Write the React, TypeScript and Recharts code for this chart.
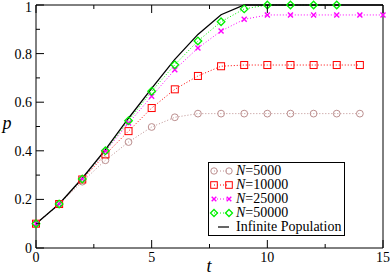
import React from 'react';
import { LineChart, Line, XAxis, YAxis, Legend } from 'recharts';

const tValues = [0, 1, 2, 3, 4, 5, 6, 7, 8, 9, 10, 11, 12, 13, 14, 15];
const n5000 = [0.1, 0.181, 0.273, 0.361, 0.436, 0.498, 0.538, 0.553, 0.553, 0.553, 0.553, 0.553, 0.553, 0.553, 0.553, null];
const n10000 = [0.1, 0.181, 0.282, 0.385, 0.481, 0.576, 0.653, 0.708, 0.748, 0.753, 0.753, 0.753, 0.753, 0.753, 0.753, null];
const n25000 = [0.1, 0.181, 0.284, 0.398, 0.514, 0.624, 0.734, 0.823, 0.893, 0.941, 0.959, 0.959, 0.959, 0.959, 0.959, 0.959];
const n50000 = [0.1, 0.181, 0.284, 0.4, 0.524, 0.645, 0.754, 0.852, 0.931, 0.984, 1.0, 1.0, 1.0, 1.0, null, null];
const infinite = [0.1, 0.181, 0.287, 0.405, 0.534, 0.657, 0.776, 0.879, 0.96, 1.0, 1.0, 1.0, 1.0, 1.0, 1.0, 1.0];

const xTicks = [0, 2.5, 5, 7.5, 10, 12.5, 15];
const yTicks = [0, 0.1, 0.2, 0.3, 0.4, 0.5, 0.6, 0.7, 0.8, 0.9, 1.0];

const data = tValues.map((t, i) => ({
  t,
  n5000: n5000[i],
  n10000: n10000[i],
  n25000: n25000[i],
  n50000: n50000[i],
  inf: infinite[i],
}));

const FONT = '"Liberation Serif", "DejaVu Serif", serif';
const C5000 = '#bc8f8f';
const C10000 = '#ff0000';
const C25000 = '#ff00ff';
const C50000 = '#00f000';

const isMajorX = (v: number) => Math.abs(v % 5) < 1e-9;
const isMajorY = (v: number) => Math.round(v * 10) % 2 === 0;

const BottomTick = (props: any) => {
  const { x, y, payload } = props;
  const v = payload.value;
  const major = isMajorX(v);
  return (
    <g>
      <line x1={x} y1={y} x2={x} y2={y - (major ? 8 : 4)} stroke="#000" strokeWidth={1} />
      {major && (
        <text x={x} y={y + 14} textAnchor="middle" fontFamily={FONT} fontSize={14} fill="#000">
          {String(v)}
        </text>
      )}
    </g>
  );
};

const TopTick = (props: any) => {
  const { x, y, payload } = props;
  const major = isMajorX(payload.value);
  return <line x1={x} y1={y} x2={x} y2={y + (major ? 8 : 4)} stroke="#000" strokeWidth={1} />;
};

const LeftTick = (props: any) => {
  const { x, y, payload } = props;
  const v = payload.value;
  const major = isMajorY(v);
  const shift = v >= 0.999 ? 1.5 : 0;
  return (
    <g>
      <line x1={x} y1={y} x2={x + (major ? 8 : 4)} y2={y} stroke="#000" strokeWidth={1} />
      {major && (
        <text x={x - 4} y={y + 5 + shift} textAnchor="end" fontFamily={FONT} fontSize={14} fill="#000">
          {String(Math.round(v * 10) / 10)}
        </text>
      )}
    </g>
  );
};

const RightTick = (props: any) => {
  const { x, y, payload } = props;
  const major = isMajorY(payload.value);
  return <line x1={x} y1={y} x2={x - (major ? 8 : 4)} y2={y} stroke="#000" strokeWidth={1} />;
};

const ok = (p: any) => p && p.cx != null && p.cy != null && p.value != null && !Number.isNaN(p.cy);

const CircleDot = (p: any) =>
  ok(p) ? <circle key={p.key} cx={p.cx} cy={p.cy} r={3.4} fill="none" stroke={C5000} strokeWidth={1} /> : <g key={p.key} />;
const SquareDot = (p: any) =>
  ok(p) ? (
    <rect key={p.key} x={p.cx - 3.5} y={p.cy - 3.5} width={7} height={7} fill="none" stroke={C10000} strokeWidth={1} />
  ) : (
    <g key={p.key} />
  );
const CrossDot = (p: any) =>
  ok(p) ? (
    <path
      key={p.key}
      d={`M${p.cx - 2.5},${p.cy - 2.5}L${p.cx + 2.5},${p.cy + 2.5}M${p.cx - 2.5},${p.cy + 2.5}L${p.cx + 2.5},${p.cy - 2.5}`}
      stroke={C25000}
      strokeWidth={1.4}
      fill="none"
    />
  ) : (
    <g key={p.key} />
  );
const DiamondDot = (p: any) =>
  ok(p) ? (
    <path
      key={p.key}
      d={`M${p.cx},${p.cy - 3.8}L${p.cx + 3.8},${p.cy}L${p.cx},${p.cy + 3.8}L${p.cx - 3.8},${p.cy}Z`}
      stroke={C50000}
      strokeWidth={1.3}
      fill="none"
    />
  ) : (
    <g key={p.key} />
  );

const legendItems = [
  { label: '5000', color: C5000, kind: 'circle' },
  { label: '10000', color: C10000, kind: 'square' },
  { label: '25000', color: C25000, kind: 'cross' },
  { label: '50000', color: C50000, kind: 'diamond' },
];

const marker = (kind: string, cx: number, cy: number, color: string) => {
  if (kind === 'circle') return <circle cx={cx} cy={cy} r={3.2} fill="none" stroke={color} strokeWidth={1} />;
  if (kind === 'square')
    return <rect x={cx - 3.3} y={cy - 3.3} width={6.6} height={6.6} fill="none" stroke={color} strokeWidth={1} />;
  if (kind === 'cross')
    return (
      <path
        d={`M${cx - 2.3},${cy - 2.3}L${cx + 2.3},${cy + 2.3}M${cx - 2.3},${cy + 2.3}L${cx + 2.3},${cy - 2.3}`}
        stroke={color}
        strokeWidth={1.4}
      />
    );
  return (
    <path
      d={`M${cx},${cy - 3.5}L${cx + 3.5},${cy}L${cx},${cy + 3.5}L${cx - 3.5},${cy}Z`}
      stroke={color}
      strokeWidth={1.3}
      fill="none"
    />
  );
};

const LegendContent = () => (
  <div
    style={{
      border: '1px solid #000',
      background: '#fff',
      width: 137,
      boxSizing: 'border-box',
      paddingTop: 1,
      paddingBottom: 1,
      fontFamily: FONT,
      fontSize: 14,
      lineHeight: '14px',
      color: '#000',
    }}
  >
    {legendItems.map((it) => (
      <div key={it.label} style={{ display: 'flex', alignItems: 'center', height: 14 }}>
        <svg width={27} height={14} style={{ display: 'block' }}>
          <line x1={5} y1={7} x2={20} y2={7} stroke={it.color} strokeWidth={1} strokeDasharray="1 2" />
          {marker(it.kind, 5, 7, it.color)}
          {marker(it.kind, 20, 7, it.color)}
        </svg>
        <span style={{ whiteSpace: 'nowrap' }}>
          <i>N</i>={it.label}
        </span>
      </div>
    ))}
    <div style={{ display: 'flex', alignItems: 'center', height: 14 }}>
      <svg width={27} height={14} style={{ display: 'block' }}>
        <line x1={9} y1={7} x2={20} y2={7} stroke="#000" strokeWidth={1.2} />
      </svg>
      <span style={{ whiteSpace: 'nowrap' }}>Infinite Population</span>
    </div>
  </div>
);

export default function App() {
  return (
    <div style={{ position: 'absolute', left: 0, top: 0, width: 390, height: 277, background: '#fff' }}>
      <LineChart width={390} height={277} data={data} margin={{ top: 0, right: 0, bottom: 0, left: 0 }}>
        <XAxis
          xAxisId="bottom"
          dataKey="t"
          type="number"
          domain={[0, 15]}
          ticks={xTicks}
          interval={0}
          height={29}
          tickSize={0}
          tickMargin={0}
          tickLine={false}
          axisLine={{ stroke: '#000', strokeWidth: 1 }}
          tick={<BottomTick />}
          label={(props: any) => (
            <text x={209} y={272} textAnchor="middle" fontFamily={FONT} fontStyle="italic" fontSize={18} fill="#000">
              t
            </text>
          )}
        />
        <XAxis
          xAxisId="top"
          orientation="top"
          dataKey="t"
          type="number"
          domain={[0, 15]}
          ticks={xTicks}
          interval={0}
          height={5}
          tickSize={0}
          tickMargin={0}
          tickLine={false}
          axisLine={{ stroke: '#000', strokeWidth: 1 }}
          tick={<TopTick />}
        />
        <YAxis
          yAxisId="left"
          type="number"
          domain={[0, 1]}
          ticks={yTicks}
          interval={0}
          width={36}
          tickSize={0}
          tickMargin={0}
          tickLine={false}
          axisLine={{ stroke: '#000', strokeWidth: 1 }}
          tick={<LeftTick />}
          label={(props: any) => (
            <text x={7} y={129} textAnchor="middle" fontFamily={FONT} fontStyle="italic" fontSize={18} fill="#000">
              p
            </text>
          )}
        />
        <YAxis
          yAxisId="right"
          orientation="right"
          type="number"
          domain={[0, 1]}
          ticks={yTicks}
          interval={0}
          width={7}
          tickSize={0}
          tickMargin={0}
          tickLine={false}
          axisLine={{ stroke: '#000', strokeWidth: 1 }}
          tick={<RightTick />}
        />
        <Line
          xAxisId="bottom"
          yAxisId="left"
          dataKey="n5000"
          name="N=5000"
          stroke={C5000}
          strokeWidth={1}
          strokeDasharray="1 2"
          dot={CircleDot}
          isAnimationActive={false}
        />
        <Line
          xAxisId="bottom"
          yAxisId="left"
          dataKey="n10000"
          name="N=10000"
          stroke={C10000}
          strokeWidth={1}
          strokeDasharray="1 2"
          dot={SquareDot}
          isAnimationActive={false}
        />
        <Line
          xAxisId="bottom"
          yAxisId="left"
          dataKey="n25000"
          name="N=25000"
          stroke={C25000}
          strokeWidth={1}
          strokeDasharray="1 2"
          dot={CrossDot}
          isAnimationActive={false}
        />
        <Line
          xAxisId="bottom"
          yAxisId="left"
          dataKey="n50000"
          name="N=50000"
          stroke={C50000}
          strokeWidth={1}
          strokeDasharray="1 2"
          dot={DiamondDot}
          isAnimationActive={false}
        />
        <Line
          xAxisId="bottom"
          yAxisId="left"
          dataKey="inf"
          name="Infinite Population"
          stroke="#000"
          strokeWidth={1.3}
          dot={false}
          isAnimationActive={false}
        />
        <Legend
          layout="vertical"
          align="center"
          verticalAlign="middle"
          content={<LegendContent />}
          wrapperStyle={{ position: 'absolute', left: 208, top: 162, width: 137, margin: 0, padding: 0 }}
        />
      </LineChart>
    </div>
  );
}
